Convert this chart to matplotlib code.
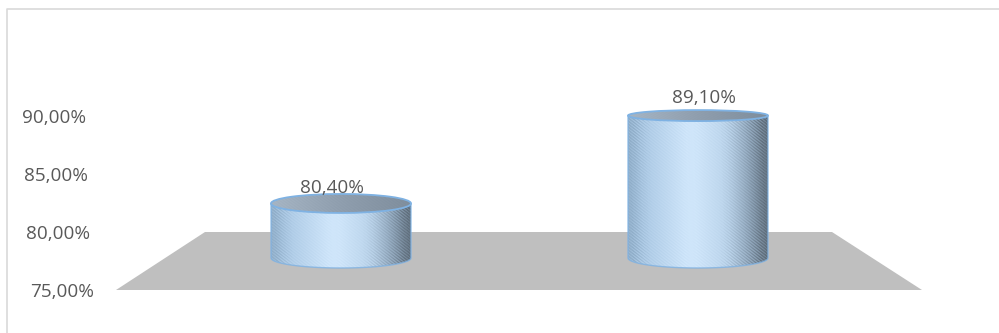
import numpy as np
import matplotlib
matplotlib.use('Agg')
import matplotlib.pyplot as plt
from matplotlib.colors import LinearSegmentedColormap
from matplotlib.lines import Line2D
from matplotlib.patches import Ellipse, PathPatch, Polygon
from matplotlib.path import Path

# Values
categories = [0, 1]
values = [80.40, 89.10]
value_labels = ['80,40%', '89,10%']
tick_values = [75, 80, 85, 90]
tick_labels = ['75,00%', '80,00%', '85,00%', '90,00%']

W, H = 999, 333
plt.rcParams['font.family'] = ['Open Sans', 'DejaVu Sans']


def bar_path(xc, top, half_w, semi_b):
    # side of the cylinder: flat top edge, rounded bottom edge
    t = np.linspace(np.pi, 2 * np.pi, 40)
    xs = xc + half_w * np.cos(t)
    ys = 75 + semi_b * np.sin(t)
    verts = [(xc - half_w, top)] + list(zip(xs, ys)) + [(xc + half_w, top), (xc - half_w, top)]
    codes = [Path.MOVETO] + [Path.LINETO] * (len(verts) - 2) + [Path.CLOSEPOLY]
    return Path(verts, codes)


def textured(n_x, n_y, amount=0.05):
    # horizontal shading with a fine diagonal weave
    xx, yy = np.meshgrid(np.arange(n_x), np.arange(n_y))
    shade = xx / (n_x - 1)
    weave = amount * np.sin((xx + yy * 1.3) * 1.6)
    return np.clip(shade + weave, 0, 1)


fig = plt.figure(figsize=(W / 100, H / 100), dpi=100, facecolor='white')

# frame: only the top and left edges show
fig.add_artist(Line2D([6.5 / W, 6.5 / W, 1], [0, 1 - 8.5 / H, 1 - 8.5 / H],
                      transform=fig.transFigure, color='#d9d9d9', linewidth=1.2))

# back axes: floor and value axis
ax_back = fig.add_axes([100 / W, 0, (W - 100) / W, 1])
ax_back.set_xlim(100, W)
ax_back.set_ylim(75 - 43 / 11.6, 75 + 290 / 11.6)
ax_back.patch.set_visible(False)
for s in ax_back.spines.values():
    s.set_visible(False)
ax_back.xaxis.set_visible(False)
ax_back.set_yticks(tick_values)
ax_back.set_yticklabels(tick_labels, fontsize=13.6, color='#595959')
ax_back.tick_params(axis='y', length=0)
for tick, right in zip(ax_back.yaxis.get_major_ticks(), [94, 90, 88, 86]):
    tick.set_pad((100 - right) * 0.72)
ax_back.add_patch(Polygon([(116, 75), (205, 80), (832, 80), (922, 75)], closed=True,
                          facecolor='#bfbfbf', edgecolor='none'))

# front axes: cylinders, 10.1 px per percentage point, 357 px between bars
px_x, px_y = 357.0, 10.1
ax = fig.add_axes([0, 0, 1, 1])
ax.axis('off')

side_cmap = LinearSegmentedColormap.from_list(
    'side', [(0, '#8fadc8'), (0.12, '#aecbe6'), (0.45, '#d2e8fc'), (0.7, '#bcd5ec'),
             (0.87, '#8ea4b9'), (1, '#5f6e7c')])
top_cmap = LinearSegmentedColormap.from_list('top', ['#a6b5c4', '#8f9eae', '#7f8e9d'])

half_w = 70 / px_x
semi_b = 10 / px_y
top_semi = [9.5 / px_y, 5.5 / px_y]
edge = '#7fb2e3'

for xc, val, label, semi_t in zip(categories, values, value_labels, top_semi):
    path = bar_path(xc, val, half_w, semi_b)
    img = ax.imshow(textured(141, int((val - 75) * px_y) + 12), cmap=side_cmap, aspect='auto',
                    extent=[xc - half_w, xc + half_w, 75 - semi_b, val], origin='lower',
                    interpolation='bilinear', zorder=2)
    img.set_clip_path(PathPatch(path, transform=ax.transData))
    ax.add_patch(PathPatch(path, facecolor='none', edgecolor=edge, linewidth=1.0, alpha=0.8, zorder=3))

    top_img = ax.imshow(textured(141, 20, 0.08), cmap=top_cmap, aspect='auto',
                        extent=[xc - half_w, xc + half_w, val - semi_t, val + semi_t],
                        origin='lower', interpolation='bilinear', zorder=4)
    top_img.set_clip_path(Ellipse((xc, val), 2 * half_w, 2 * semi_t, transform=ax.transData))
    ax.add_patch(Ellipse((xc, val), 2 * half_w, 2 * semi_t, facecolor='none',
                         edgecolor=edge, linewidth=1.3, zorder=5))

    ax.text(xc + (-9 if xc == 0 else 6) / px_x, val + (15 if xc == 0 else 18) / px_y, label,
            ha='center', va='center', fontsize=13.6, color='#595959', zorder=6)

ax.set_xlim(-341 / px_x, (W - 341) / px_x)
ax.set_ylim(75 - 75 / px_y, 75 + 258 / px_y)

fig.savefig('out.png', dpi=100)
